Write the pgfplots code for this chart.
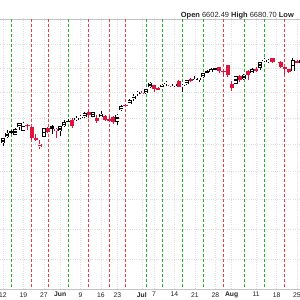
\documentclass[border=0pt]{standalone}
\usepackage{pgfplots}
\pgfplotsset{compat=1.18}
\usepackage{pgfplotstable}
\usepackage{fontspec}
\setmainfont{Liberation Sans}
\definecolor{cred}{RGB}{222,22,62}
\definecolor{vgreen}{RGB}{40,175,40}
\definecolor{vred}{RGB}{236,60,60}
\definecolor{gridc}{RGB}{222,222,222}
\definecolor{axc}{RGB}{195,195,195}
\definecolor{txt}{RGB}{35,35,35}
\pgfplotsset{
  wick/.style={mark=none, draw=none,
    error bars/.cd, y dir=both, y explicit, error mark=none,
    error bar style={draw=#1, solid, line width=0.9bp}},
  body/.style={mark=none, draw=none,
    error bars/.cd, y dir=both, y explicit, error mark=none,
    error bar style={draw=#1, solid, line width=4.1bp, line cap=butt}},
  inner/.style={mark=none, draw=none,
    error bars/.cd, y dir=both, y explicit, error mark=none,
    error bar style={draw=white, solid, line width=2.5bp, line cap=butt, shorten >=0.8bp, shorten <=0.8bp}},
}
% hollow black (close > open, close >= previous close)
\pgfplotstableread{
i O H L C
0 5807 5845 5786 5844
1 5854 5907 5843 5887
3 5869 5924 5867 5917
4 5929 5959 5907 5958
5 5903 5969 5896 5964
10 5854 5924 5854 5922
14 5897 5937 5861 5936
15 5939 5981 5929 5970
18 5987 6017 5979 6000
19 6005 6021 5994 6006
20 6010 6043 6000 6039
22 6010 6045 6004 6045
24 6004 6051 6004 6033
28 5970 6029 5943 6025
29 6061 6102 6055 6092
31 6112 6147 6105 6141
32 6151 6188 6132 6173
33 6193 6215 6169 6205
35 6193 6228 6188 6227
36 6246 6285 6240 6279
39 6241 6269 6235 6263
40 6270 6290 6251 6280
42 6255 6272 6241 6269
44 6249 6268 6202 6264
45 6267 6299 6260 6297
47 6305 6336 6304 6306
48 6307 6316 6282 6310
49 6327 6361 6316 6359
51 6370 6396 6369 6389
57 6272 6330 6272 6330
59 6310 6350 6303 6345
61 6356 6395 6356 6389
63 6398 6446 6386 6446
64 6460 6480 6447 6467
65 6453 6473 6441 6469
71 6370 6482 6370 6467
73 6441 6467 6437 6466
}\hb
% hollow red (close > open, close < previous close)
\pgfplotstableread{
i O H L C
9 5782 5830 5767 5803
13 5904 5922 5844 5911
34 6187 6211 6178 6198
41 6256 6269 6243 6260
67 6445 6455 6437 6449
}\hr
% filled black (close < open, close >= previous close)
\pgfplotstableread{
i O H L C
2 5896 5907 5876 5893
12 5940 5943 5874 5912
16 5978 5991 5966 5971
50 6369 6381 6361 6363
52 6398 6401 6380 6390
}\fb
% filled red (close < open, close < previous close)
\pgfplotstableread{
i O H L C
6 5945 5953 5909 5940
7 5928 5938 5831 5845
8 5842 5878 5826 5841
11 5925 5930 5886 5889
17 5986 6000 5921 5939
21 6049 6059 6002 6022
23 6001 6026 5963 5977
25 6012 6023 5975 5983
26 5986 6018 5972 5981
27 6005 6018 5953 5968
30 6104 6109 6081 6091
37 6260 6262 6201 6230
38 6232 6243 6218 6226
43 6295 6302 6241 6244
46 6311 6316 6285 6296
53 6404 6409 6361 6371
54 6378 6390 6327 6363
55 6427 6427 6327 6339
56 6272 6289 6213 6238
58 6336 6344 6286 6299
60 6376 6379 6297 6340
62 6390 6409 6364 6373
66 6478 6481 6441 6450
68 6446 6456 6397 6411
69 6406 6406 6343 6396
70 6389 6394 6360 6370
72 6458 6466 6438 6439
}\fr
\begin{document}
\begin{tikzpicture}
\clip (0,-11bp) rectangle (300bp,289bp);
\begin{axis}[
  at={(0,0)}, anchor=south west,
  scale only axis, width=300bp, height=270bp,
  ymode=log,
  xmin=-0.735, xmax=72.74, ymin=4813, ymax=6817,
  separate axis lines,
  x axis line style={axc, line width=0.8bp},
  y axis line style={draw=none},
  xtick={0,5,10,14,19,24,28,34,37,42,47,52,56,62,67,72},
  xticklabels={12,19,27,\textbf{Jun},9,16,23,\textbf{Jul},7,14,21,28,\textbf{Aug},11,18,25},
  ytick={5000,5200,5400,5600,5800,6000,6200,6400,6600},
  yticklabel=\empty, minor ytick={},
  major tick length=0pt, minor tick length=0pt,
  xtick pos=bottom, ytick pos=left,
  xticklabel style={font=\fontsize{6.8}{7}\selectfont, text=txt, anchor=north, inner sep=0pt, yshift=-3.2bp},
  xmajorgrids=false, ymajorgrids=true, yminorgrids=false,
  major grid style={gridc, line width=0.6bp, dash pattern=on 1bp off 1.2bp},
  clip=true,
]
% vertical grid at the date ticks
\addplot[gridc, line width=0.6bp, dash pattern=on 1bp off 1.2bp, ycomb, mark=none]
  coordinates {(0,7000) (5,7000) (10,7000) (14,7000) (19,7000) (24,7000) (28,7000) (34,7000) (37,7000) (42,7000) (47,7000) (52,7000) (56,7000) (62,7000) (67,7000) (72,7000)};
% weekly marker lines
\addplot[vgreen, line width=0.8bp, dash pattern=on 3bp off 2bp, ycomb, mark=none]
  coordinates {(2,7000) (16,7000) (35,7000) (39,7000) (44,7000) (49,7000) (59,7000) (64,7000)};
\addplot[vred, line width=0.8bp, dash pattern=on 3bp off 2bp, ycomb, mark=none]
  coordinates {(7,7000) (11,7000) (21,7000) (26,7000) (30,7000) (54,7000) (69,7000)};
% wicks
\addplot[wick=black] table[x=i, y expr={(\thisrow{H}+\thisrow{L})/2}, y error expr={(\thisrow{H}-\thisrow{L})/2}] {\hb};
\addplot[wick=cred] table[x=i, y expr={(\thisrow{H}+\thisrow{L})/2}, y error expr={(\thisrow{H}-\thisrow{L})/2}] {\hr};
\addplot[wick=black] table[x=i, y expr={(\thisrow{H}+\thisrow{L})/2}, y error expr={(\thisrow{H}-\thisrow{L})/2}] {\fb};
\addplot[wick=cred] table[x=i, y expr={(\thisrow{H}+\thisrow{L})/2}, y error expr={(\thisrow{H}-\thisrow{L})/2}] {\fr};
% bodies
\addplot[body=black] table[x=i, y expr={(\thisrow{O}+\thisrow{C})/2}, y error expr={max(abs(\thisrow{C}-\thisrow{O})/2,5)}] {\hb};
\addplot[body=cred] table[x=i, y expr={(\thisrow{O}+\thisrow{C})/2}, y error expr={max(abs(\thisrow{C}-\thisrow{O})/2,5)}] {\hr};
\addplot[body=black] table[x=i, y expr={(\thisrow{O}+\thisrow{C})/2}, y error expr={max(abs(\thisrow{C}-\thisrow{O})/2,5)}] {\fb};
\addplot[body=cred] table[x=i, y expr={(\thisrow{O}+\thisrow{C})/2}, y error expr={max(abs(\thisrow{C}-\thisrow{O})/2,5)}] {\fr};
% hollow interiors
\addplot[inner] table[x=i, y expr={(\thisrow{O}+\thisrow{C})/2}, y error expr={max(abs(\thisrow{C}-\thisrow{O})/2,5)}] {\hb};
\addplot[inner] table[x=i, y expr={(\thisrow{O}+\thisrow{C})/2}, y error expr={max(abs(\thisrow{C}-\thisrow{O})/2,5)}] {\hr};
\end{axis}
\node[anchor=base west, inner sep=0pt, text=txt, font=\fontsize{7.5}{8}\selectfont] at (180.7bp,271.7bp)
  {\textbf{Open} 6602.49 \textbf{High} 6680.70 \textbf{Low}};
\end{tikzpicture}
\end{document}
